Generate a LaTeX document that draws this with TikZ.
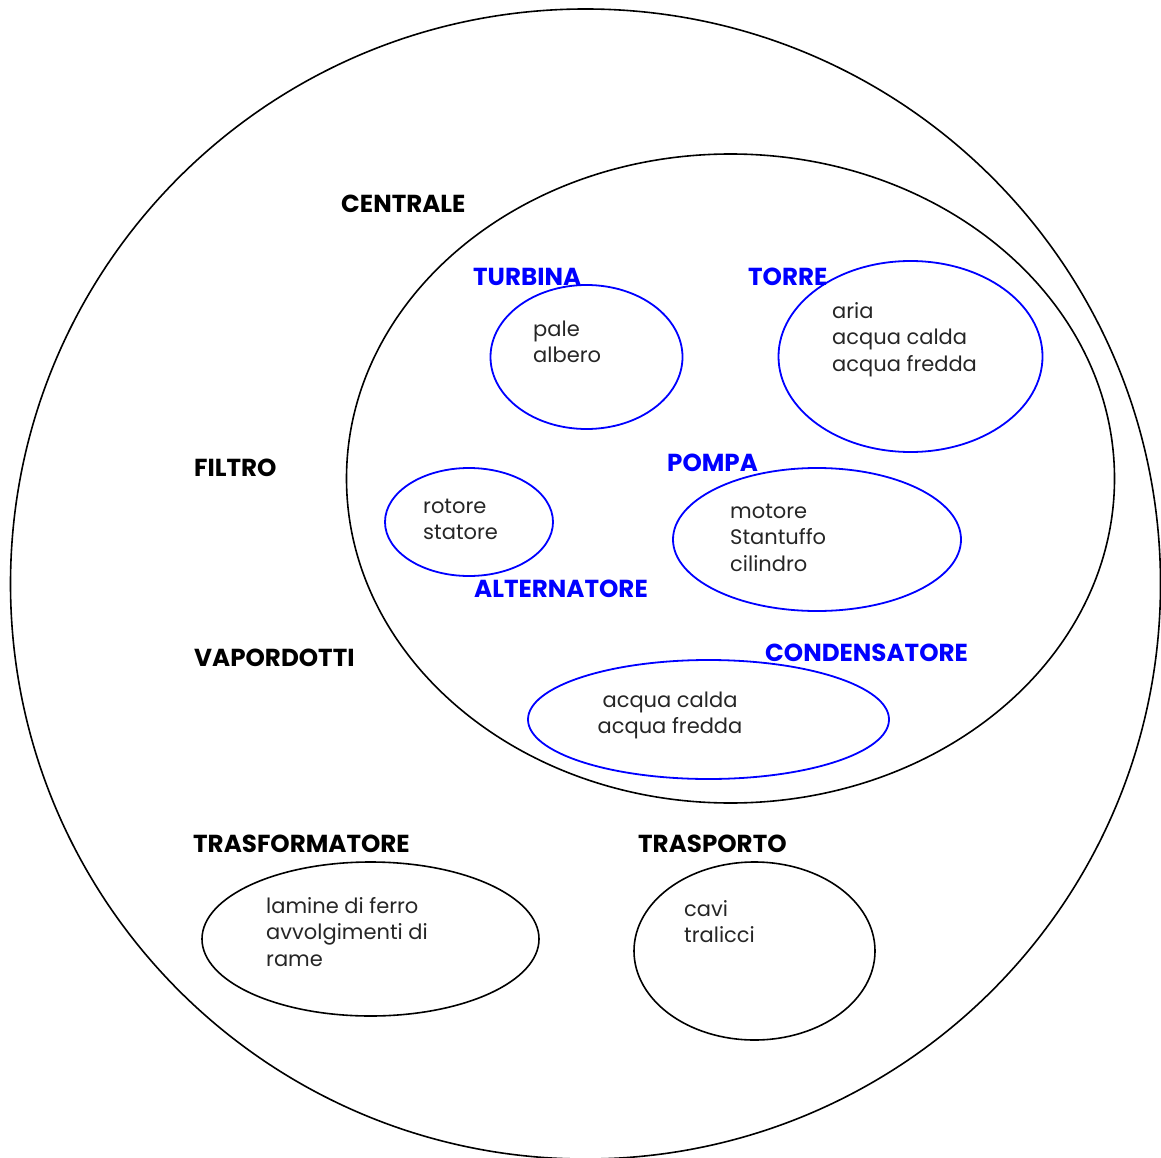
\documentclass[tikz,border=0pt]{standalone}
\usepackage{fontspec}
\setmainfont{Poppins}
\usetikzlibrary{shapes.geometric}
\definecolor{setblue}{RGB}{0,0,255}
\tikzset{
  blackset/.style={draw=black, line width=1.6pt, ellipse, inner sep=0pt},
  blueset/.style={draw=setblue, line width=1.8pt, ellipse, inner sep=0pt},
  toplabel/.style={anchor=base west, inner sep=0pt, font=\fontsize{24.6}{28}\selectfont\bfseries, text=black},
  sublabel/.style={toplabel, text=setblue},
  % multi-line items: the base anchor sits on the last line
  items/.style={anchor=base west, inner sep=0pt, align=left, font=\fontsize{21}{26.5}\selectfont, text=black!85},
}
\begin{document}
\begin{tikzpicture}[x=1pt, y=-1pt]
\useasboundingbox (0,0) rectangle (1161,1158);

% outer set and the power station set
\node[blackset, minimum width=1150pt, minimum height=1150pt] (outer) at (585.5,584) {};
\node[blackset, minimum width=768pt, minimum height=649pt] (centrale) at (730.5,478.5) {};

% components of the power station
\node[blueset, minimum width=192pt, minimum height=144pt] (turbina) at (586.5,357) {};
\node[blueset, minimum width=264pt, minimum height=191pt] (torre) at (910.5,356.5) {};
\node[blueset, minimum width=168pt, minimum height=108pt] (alternatore) at (469,522) {};
\node[blueset, minimum width=288pt, minimum height=143pt] (pompa) at (817,539.5) {};
\node[blueset, minimum width=361pt, minimum height=119pt] (condensatore) at (708.5,719.5) {};

% outer components
\node[blackset, minimum width=337pt, minimum height=154pt] (trasformatore) at (370.5,939) {};
\node[blackset, minimum width=241pt, minimum height=178pt] (trasporto) at (754.5,951) {};

% set labels
\node[toplabel] (lcentrale) at (341,213) {CENTRALE};
\node[toplabel] (lfiltro) at (194,476) {FILTRO};
\node[toplabel] (lvapordotti) at (194,666) {VAPORDOTTI};
\node[toplabel] (ltrasformatore) at (193,852) {TRASFORMATORE};
\node[toplabel] (ltrasporto) at (638,852) {TRASPORTO};
\node[sublabel] (lturbina) at (473,285) {TURBINA};
\node[sublabel] (ltorre) at (748,285) {TORRE};
\node[sublabel] (lpompa) at (667,471) {POMPA};
\node[sublabel] (lalternatore) at (474,597) {ALTERNATORE};
\node[sublabel] (lcondensatore) at (765,661) {CONDENSATORE};

% elements of each set (positions give the last line's baseline)
\node[items] (iturbina) at (533,362.5) {pale\\albero};
\node[items] (itorre) at (832,371) {aria\\acqua calda\\acqua fredda};
\node[items] (ialternatore) at (423,539.5) {rotore\\statore};
\node[items] (ipompa) at (730,571) {motore\\Stantuffo\\cilindro};
\node[items, align=center, anchor=base] (icondensatore) at (670,733.5) {acqua calda\\acqua fredda};
\node[items] (itrasformatore) at (266,966) {lamine di ferro\\avvolgimenti di\\rame};
\node[items] (itrasporto) at (684,942.5) {cavi\\tralicci};
\end{tikzpicture}
\end{document}
